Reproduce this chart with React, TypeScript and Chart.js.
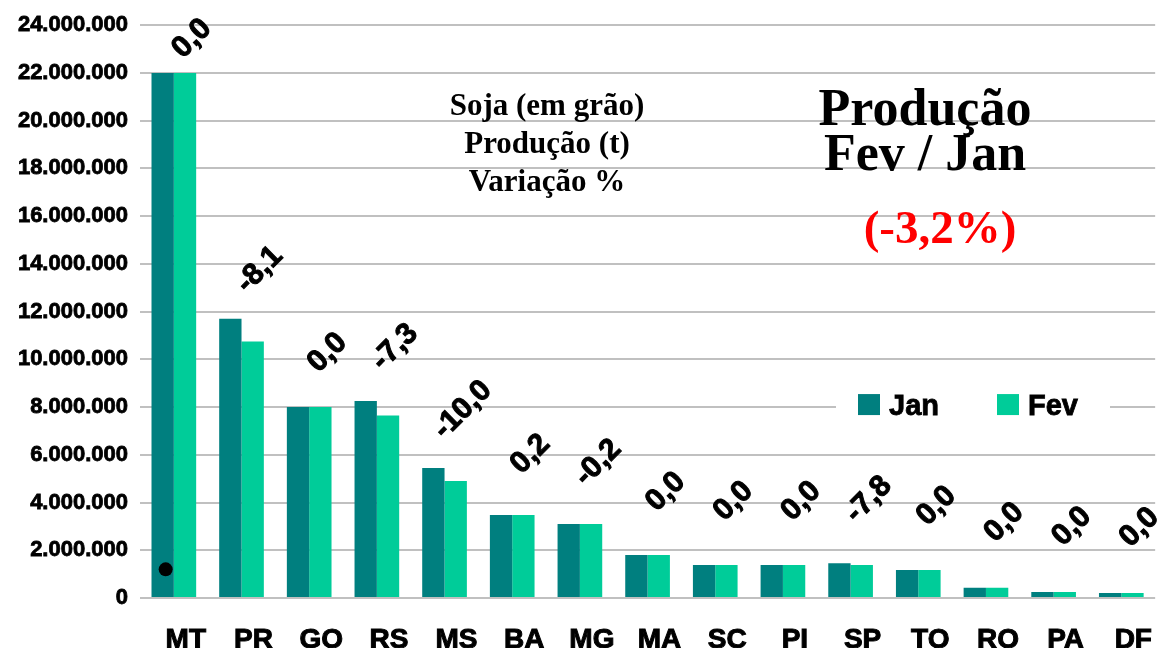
import React, { useEffect, useRef } from "react";
import { Chart, registerables } from "chart.js";

Chart.register(...registerables);

const CATEGORIES = ["MT", "PR", "GO", "RS", "MS", "BA", "MG", "MA", "SC", "PI", "SP", "TO", "RO", "PA", "DF"];
const JAN = [22000000, 11700000, 8000000, 8250000, 5450000, 3480000, 3100000, 1800000, 1380000, 1380000, 1460000, 1170000, 430000, 250000, 210000];
const FEV = [22000000, 10750000, 8000000, 7650000, 4900000, 3480000, 3100000, 1800000, 1380000, 1380000, 1380000, 1170000, 430000, 250000, 210000];
const VARIATION = ["0,0", "-8,1", "0,0", "-7,3", "-10,0", "0,2", "-0,2", "0,0", "0,0", "0,0", "-7,8", "0,0", "0,0", "0,0", "0,0"];
const SERIES_NAMES = ["Jan", "Fev"];
const SUBTITLE_LINES = ["Soja (em grão)", "Produção (t)", "Variação %"];
const TITLE_LINES = ["Produção", "Fev / Jan"];
const TOTAL_CHANGE = "(-3,2%)";
const MARKER_CATEGORY = "MT";
const MARKER_VALUE = 1200000;
const Y_MAX = 24000000;
const Y_STEP = 2000000;

const JAN_COLOR = "#007F7F";
const FEV_COLOR = "#00CC99";
const SANS = "'Liberation Sans', Arial, sans-serif";
const SERIF = "'Liberation Serif', 'Times New Roman', serif";

const fmt = (v: number) => String(Math.round(v)).replace(/\B(?=(\d{3})+(?!\d))/g, ".");

const overlayPlugin = {
  id: "overlay",
  afterDatasetsDraw(chart: any) {
    const ctx = chart.ctx;
    const m0 = chart.getDatasetMeta(0);
    const m1 = chart.getDatasetMeta(1);
    const yScale = chart.scales.y;
    ctx.save();
    // variation labels
    ctx.fillStyle = "#000";
    ctx.strokeStyle = "#000";
    ctx.lineWidth = 1;
    ctx.font = `bold 30px ${SANS}`;
    ctx.textAlign = "center";
    ctx.textBaseline = "middle";
    CATEGORIES.forEach((_, i) => {
      const a = m0.data[i];
      const b = m1.data[i];
      const top = Math.min(a.y, b.y);
      const gap = 30 + 0.06 * top;
      ctx.save();
      ctx.translate(b.x + 7, top - gap);
      ctx.rotate(-Math.PI / 4);
      ctx.fillText(VARIATION[i], 0, 0);
      ctx.strokeText(VARIATION[i], 0, 0);
      ctx.restore();
    });
    // marker dot
    const mi = CATEGORIES.indexOf(MARKER_CATEGORY);
    if (mi >= 0) {
      const el = m0.data[mi];
      ctx.beginPath();
      ctx.arc(el.x + 3, yScale.getPixelForValue(MARKER_VALUE), 7, 0, Math.PI * 2);
      ctx.fillStyle = "#000";
      ctx.fill();
    }
    // subtitle
    ctx.fillStyle = "#000";
    ctx.textAlign = "center";
    ctx.textBaseline = "alphabetic";
    ctx.font = `bold 31px ${SERIF}`;
    SUBTITLE_LINES.forEach((t, i) => ctx.fillText(t, 547, 115 + i * 38));
    // title
    ctx.font = `bold 52px ${SERIF}`;
    TITLE_LINES.forEach((t, i) => ctx.fillText(t, 925, 125 + i * 45));
    ctx.fillStyle = "#FF0000";
    ctx.font = `bold 47px ${SERIF}`;
    ctx.fillText(TOTAL_CHANGE, 940, 243);
    // legend
    const ly = yScale.getPixelForValue(8000000);
    ctx.fillStyle = "#fff";
    ctx.fillRect(836, ly - 16, 274, 32);
    ctx.font = `bold 29px ${SANS}`;
    ctx.textAlign = "left";
    ctx.textBaseline = "middle";
    const items = [
      { x: 858, color: JAN_COLOR, label: chart.data.datasets[0].label },
      { x: 997, color: FEV_COLOR, label: chart.data.datasets[1].label },
    ];
    items.forEach((it) => {
      ctx.fillStyle = it.color;
      ctx.fillRect(it.x, ly - 13, 22, 21);
      ctx.fillStyle = "#000";
      ctx.fillText(it.label, it.x + 31, ly);
      ctx.lineWidth = 0.8;
      ctx.strokeText(it.label, it.x + 31, ly);
    });
    ctx.restore();
  },
};

export default function App() {
  const ref = useRef<HTMLCanvasElement | null>(null);
  useEffect(() => {
    if (!ref.current) return;
    const chart = new Chart(ref.current, {
      type: "bar",
      data: {
        labels: CATEGORIES,
        datasets: [
          { label: SERIES_NAMES[0], data: JAN, backgroundColor: JAN_COLOR, borderWidth: 0 },
          { label: SERIES_NAMES[1], data: FEV, backgroundColor: FEV_COLOR, borderWidth: 0 },
        ],
      },
      options: {
        responsive: false,
        animation: false,
        devicePixelRatio: 1,
        layout: { padding: { top: 25, right: 1, left: 0, bottom: 0 } },
        datasets: { bar: { categoryPercentage: 0.66, barPercentage: 1 } },
        plugins: { legend: { display: false }, tooltip: { enabled: false } },
        scales: {
          x: {
            grid: { display: false, drawTicks: false },
            border: { display: false },
            ticks: { color: "#000", textStrokeColor: "#000", textStrokeWidth: 1, font: { family: SANS, size: 28, weight: "bold" }, padding: 25, labelOffset: 12, maxRotation: 0, autoSkip: false },
            afterFit: (s: any) => { s.height = 50; },
          },
          y: {
            min: 0,
            max: Y_MAX,
            ticks: { stepSize: Y_STEP, color: "#000", textStrokeColor: "#000", textStrokeWidth: 0.8, font: { family: SANS, size: 22, weight: "bold" }, padding: 12, callback: (v: any) => fmt(Number(v)) },
            grid: { color: "#C0C0C0", lineWidth: 2, drawTicks: false },
            border: { display: false },
            afterFit: (s: any) => { s.width = 140; },
          },
        },
      },
      plugins: [overlayPlugin],
    });
    return () => chart.destroy();
  }, []);
  return (
    <div style={{ position: "absolute", left: 0, top: 0, width: 1165, height: 648, background: "#fff" }}>
      <canvas ref={ref} width={1165} height={648} />
    </div>
  );
}
